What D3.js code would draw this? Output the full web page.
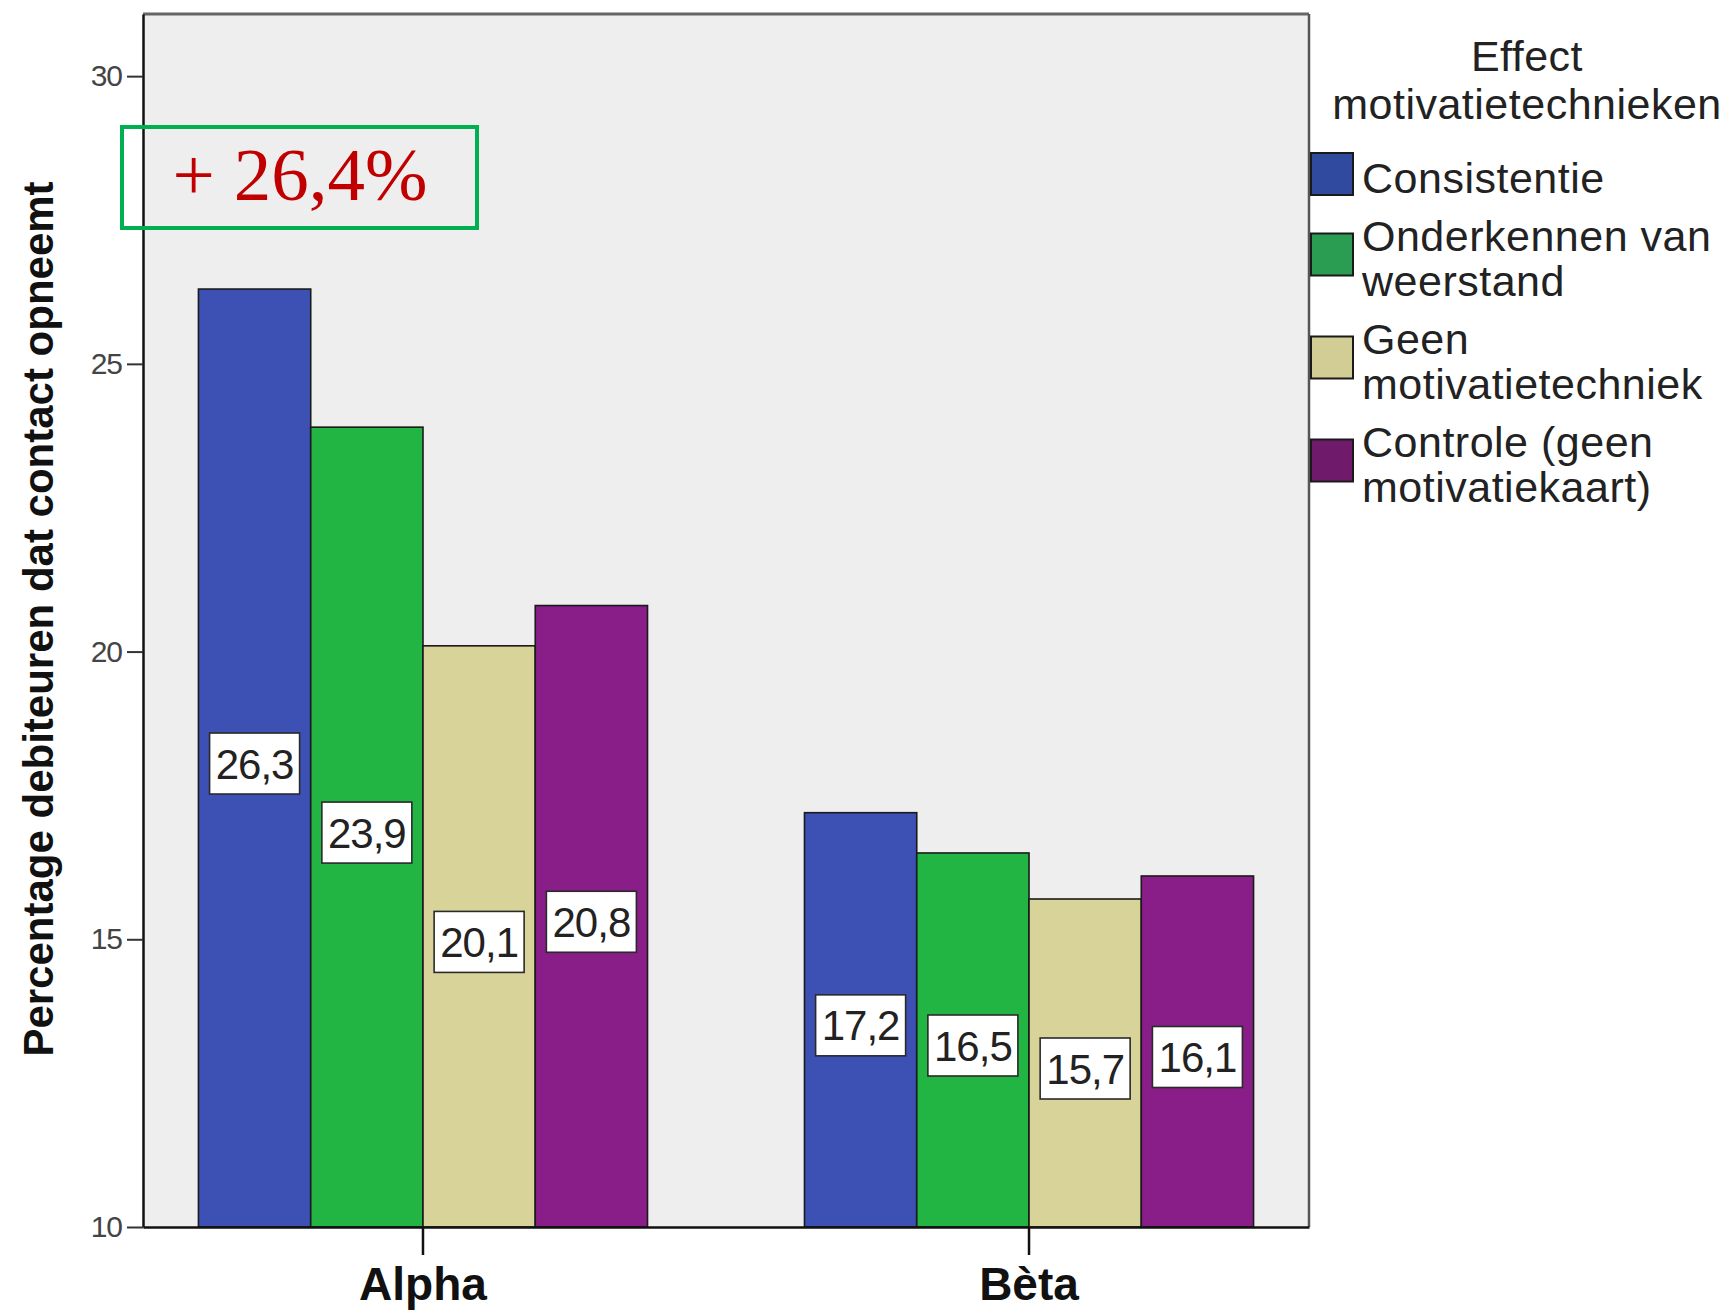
<!DOCTYPE html>
<html>
<head>
<meta charset="utf-8">
<script src="https://cdn.jsdelivr.net/npm/d3@7"></script>
<style>
  html, body { margin: 0; padding: 0; background: #ffffff; }
  svg { display: block; }
</style>
</head>
<body>
<svg id="chart" width="1731" height="1313"></svg>
<script>
// Percentage of debtors who make contact, per motivation technique and group
const groups = ["Alpha", "Bèta"];
const series = [
  "Consistentie",
  "Onderkennen van weerstand",
  "Geen motivatietechniek",
  "Controle (geen motivatiekaart)"
];
const legendLines = [
  ["Consistentie"],
  ["Onderkennen van", "weerstand"],
  ["Geen", "motivatietechniek"],
  ["Controle (geen", "motivatiekaart)"]
];
const alphaValues = [26.3, 23.9, 20.1, 20.8];
const betaValues = [17.2, 16.5, 15.7, 16.1];
const yTicks = [10, 15, 20, 25, 30];
const legendTitle = ["Effect", "motivatietechnieken"];
const yTitle = "Percentage debiteuren dat contact opneemt";
const callout = "+ 26,4%";

const valuesByGroup = [alphaValues, betaValues];
const colors = ["#3d50b4", "#22b543", "#d8d398", "#8a1e88"];
const swatchColors = ["#2f4a9e", "#2a9d52", "#d2cd94", "#701a6c"];

const svg = d3.select("#chart");
const plotLeft = 143, plotRight = 1309, plotTop = 14, plotBottom = 1227;
const sans = "'Liberation Sans', Arial, sans-serif";

// plot background
svg.append("rect")
  .attr("x", plotLeft).attr("y", plotTop)
  .attr("width", plotRight - plotLeft).attr("height", plotBottom - plotTop)
  .attr("fill", "#eeeeee");

const x0 = d3.scaleBand().domain(groups).range([plotLeft, plotRight])
  .paddingInner(0.259).paddingOuter(0.0915);
const x1 = d3.scaleBand().domain(series).range([0, x0.bandwidth()]);
const y = d3.scaleLinear().domain([10, 31.08]).range([plotBottom, plotTop]);

// plot frame (top and right)
svg.append("line").attr("x1", plotLeft).attr("x2", plotRight).attr("y1", plotTop).attr("y2", plotTop)
  .attr("stroke", "#666").attr("stroke-width", 3);
svg.append("line").attr("x1", plotRight).attr("x2", plotRight).attr("y1", plotTop).attr("y2", plotBottom)
  .attr("stroke", "#555").attr("stroke-width", 2.5);

// bars
const rows = [];
groups.forEach((g, gi) => {
  series.forEach((s, si) => {
    rows.push({ group: g, series: s, si, value: valuesByGroup[gi][si] });
  });
});

const barG = svg.append("g");
barG.selectAll("rect.bar").data(rows).join("rect")
  .attr("class", "bar")
  .attr("x", d => x0(d.group) + x1(d.series))
  .attr("y", d => y(d.value))
  .attr("width", x1.bandwidth())
  .attr("height", d => y(10) - y(d.value))
  .attr("fill", d => colors[d.si])
  .attr("stroke", "#1a1a1a")
  .attr("stroke-width", 1.6);

// value labels in white boxes at bar middles
const fmt = v => d3.format(".1f")(v).replace(".", ",");
const lab = barG.selectAll("g.lab").data(rows).join("g")
  .attr("class", "lab")
  .attr("transform", d => {
    const cx = x0(d.group) + x1(d.series) + x1.bandwidth() / 2;
    const cy = (y(d.value) + y(10)) / 2 + 5;
    return `translate(${cx},${cy})`;
  });
lab.append("rect")
  .attr("x", -45).attr("y", -30).attr("width", 90).attr("height", 61)
  .attr("fill", "#ffffff").attr("stroke", "#2a2a2a").attr("stroke-width", 1.6);
lab.append("text")
  .attr("text-anchor", "middle").attr("dy", "0.37em")
  .attr("font-family", sans).attr("font-size", 42).attr("letter-spacing", -1)
  .attr("fill", "#222")
  .text(d => fmt(d.value));

// y axis
const yAxis = d3.axisLeft(y).tickValues(yTicks).tickSize(16).tickSizeOuter(0).tickPadding(5);
const gy = svg.append("g").attr("transform", `translate(${plotLeft},0)`).call(yAxis);
gy.select(".domain").attr("stroke", "#111").attr("stroke-width", 2.5);
gy.selectAll(".tick line").attr("stroke", "#333").attr("stroke-width", 2);
gy.selectAll(".tick text").attr("font-family", sans).attr("font-size", 30)
  .attr("fill", "#444").attr("letter-spacing", -1);

// x axis
const xAxis = d3.axisBottom(x0).tickSize(28).tickSizeOuter(0).tickPadding(16);
const gx = svg.append("g").attr("transform", `translate(0,${plotBottom})`).call(xAxis);
gx.select(".domain").attr("stroke", "#111").attr("stroke-width", 2.5);
gx.selectAll(".tick line").attr("stroke", "#111").attr("stroke-width", 2.5);
gx.selectAll(".tick text").attr("font-family", sans).attr("font-size", 46)
  .attr("font-weight", "bold").attr("fill", "#111").attr("dy", "0.62em");

// y axis title
svg.append("text")
  .attr("transform", `translate(53,619) rotate(-90)`)
  .attr("text-anchor", "middle")
  .attr("font-family", sans).attr("font-size", 42).attr("font-weight", "bold")
  .attr("fill", "#111")
  .text(yTitle);

// callout box
svg.append("rect")
  .attr("x", 122).attr("y", 127).attr("width", 355).attr("height", 101)
  .attr("fill", "none").attr("stroke", "#00b050").attr("stroke-width", 4);
svg.append("text")
  .attr("x", 300).attr("y", 200).attr("text-anchor", "middle")
  .attr("font-family", "'Liberation Serif', 'DejaVu Serif', Georgia, serif")
  .attr("font-size", 75).attr("fill", "#c00000")
  .text(callout);

// legend
const lg = svg.append("g");
const legendFont = 43, legendSpacing = 0.5, lineStep = 45, itemGap = 58;
legendTitle.forEach((t, i) => {
  lg.append("text")
    .attr("x", 1527).attr("y", 71 + i * 48)
    .attr("text-anchor", "middle")
    .attr("font-family", sans).attr("font-size", legendFont).attr("letter-spacing", legendSpacing)
    .attr("fill", "#222")
    .text(t);
});
let baseline = 193;
legendLines.forEach((lines, i) => {
  const first = baseline;
  const last = baseline + (lines.length - 1) * lineStep;
  lg.append("rect")
    .attr("x", 1311).attr("y", (first + last) / 2 - 19 - 21)
    .attr("width", 42).attr("height", 42)
    .attr("fill", swatchColors[i]).attr("stroke", "#1a1a1a").attr("stroke-width", 2);
  lines.forEach((ln, j) => {
    lg.append("text")
      .attr("x", 1362).attr("y", first + j * lineStep)
      .attr("font-family", sans).attr("font-size", legendFont).attr("letter-spacing", legendSpacing)
      .attr("fill", "#222")
      .text(ln);
  });
  baseline = last + itemGap;
});
</script>
</body>
</html>
